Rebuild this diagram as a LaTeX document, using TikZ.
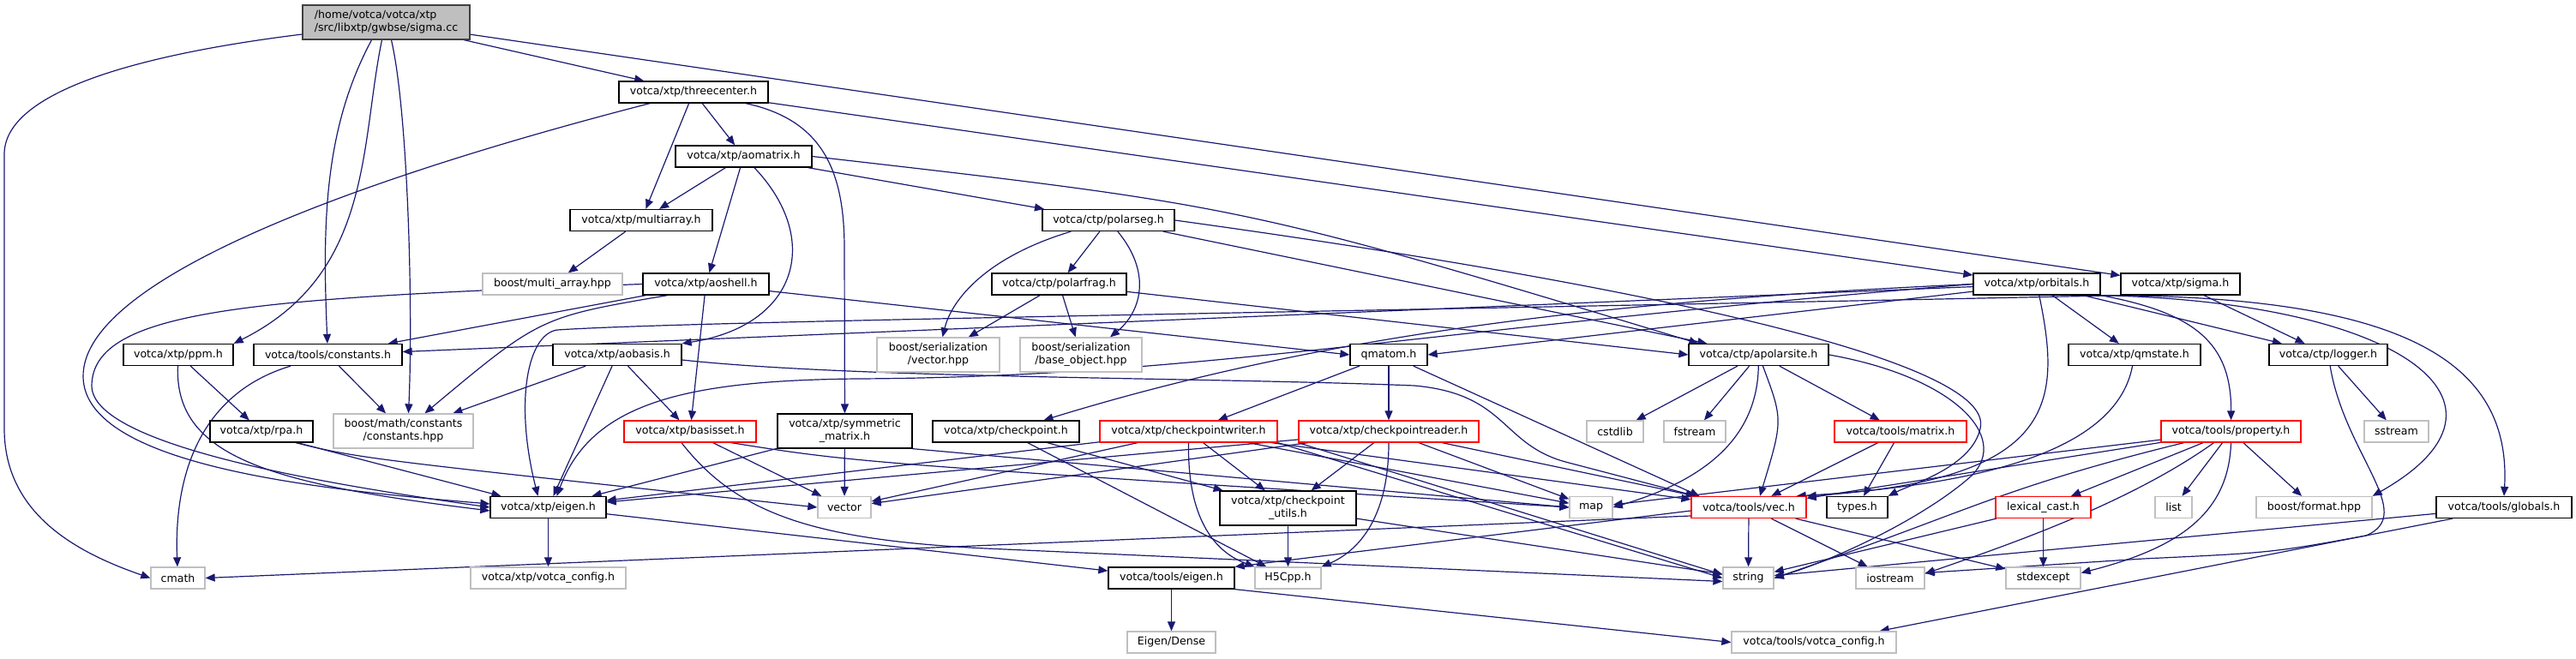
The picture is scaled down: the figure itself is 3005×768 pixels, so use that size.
\documentclass[tikz,border=0pt]{standalone}
\usepackage{fontspec}
\setmainfont{DejaVu Sans}
\usetikzlibrary{arrows.meta}
\definecolor{edgec}{RGB}{25,25,112}
\definecolor{grayb}{RGB}{191,191,191}
\definecolor{rootb}{RGB}{64,64,64}
\pgfdeclarelayer{bg}
\pgfsetlayers{bg,main}
\begin{document}
\begin{tikzpicture}[x=1pt,y=-1pt,
  nd/.style={draw=black, line width=1.3pt, fill=white, inner sep=0pt, minimum height=25pt,
    font=\fontsize{12.6}{15}\selectfont, align=center, text=black},
  rd/.style={nd, draw=red},
  gr/.style={nd, draw=grayb},
  rootn/.style={nd, fill=grayb, draw=rootb, align=left},
  tall/.style={minimum height=40pt},
  lnk/.style={draw=edgec, line width=1.2pt, -{Triangle[length=11pt,width=9pt]}}]
\useasboundingbox (0,0) rectangle (3005,768);

% nodes
\node[rootn,tall,minimum width=195pt] (root) at (450.5,26) {/home/votca/votca/xtp\\/src/libxtp/gwbse/sigma.cc};
\node[nd,minimum width=174pt] (threecenter) at (809,107.5) {votca/xtp/threecenter.h};
\node[nd,minimum width=159pt] (aomatrix) at (867.5,182.5) {votca/xtp/aomatrix.h};
\node[nd,minimum width=166pt] (multiarray) at (748,257) {votca/xtp/multiarray.h};
\node[nd,minimum width=154pt] (polarseg) at (1293,257) {votca/ctp/polarseg.h};
\node[gr,minimum width=163pt] (multiarrayhpp) at (644.5,331.5) {boost/multi\_array.hpp};
\node[nd,minimum width=147pt] (aoshell) at (823.5,331.5) {votca/xtp/aoshell.h};
\node[nd,minimum width=157pt] (polarfrag) at (1235.5,331.5) {votca/ctp/polarfrag.h};
\node[nd,minimum width=148pt] (orbitals) at (2376,331.5) {votca/xtp/orbitals.h};
\node[nd,minimum width=139pt] (sigmah) at (2543.5,331.5) {votca/xtp/sigma.h};
\node[nd,minimum width=128pt] (ppm) at (208,414) {votca/xtp/ppm.h};
\node[nd,minimum width=173pt] (constants) at (382.5,414) {votca/tools/constants.h};
\node[nd,minimum width=150pt] (aobasis) at (720,414) {votca/xtp/aobasis.h};
\node[gr,tall,minimum width=143pt] (serialvec) at (1094.5,414) {boost/serialization\\/vector.hpp};
\node[gr,tall,minimum width=142pt] (baseobj) at (1261,414) {boost/serialization\\/base\_object.hpp};
\node[nd,minimum width=90pt] (qmatom) at (1620,414) {qmatom.h};
\node[nd,minimum width=163pt] (apolarsite) at (2051.5,414) {votca/ctp/apolarsite.h};
\node[nd,minimum width=154pt] (qmstate) at (2490,414) {votca/xtp/qmstate.h};
\node[nd,minimum width=138pt] (logger) at (2716,414) {votca/ctp/logger.h};
\node[nd,minimum width=120pt] (rpa) at (305,503.5) {votca/xtp/rpa.h};
\node[gr,tall,minimum width=163pt] (boostmath) at (470.5,503) {boost/math/constants\\/constants.hpp};
\node[rd,minimum width=154pt] (basisset) at (805,503.5) {votca/xtp/basisset.h};
\node[nd,tall,minimum width=157pt] (symmat) at (985.5,503) {votca/xtp/symmetric\\\_matrix.h};
\node[nd,minimum width=171pt] (checkpoint) at (1173.5,503.5) {votca/xtp/checkpoint.h};
\node[rd,minimum width=207pt] (cpwriter) at (1386.5,503.5) {votca/xtp/checkpointwriter.h};
\node[rd,minimum width=210pt] (cpreader) at (1620,503.5) {votca/xtp/checkpointreader.h};
\node[gr,minimum width=66pt] (cstdlib) at (1884,503.5) {cstdlib};
\node[gr,minimum width=72pt] (fstream) at (1977,503.5) {fstream};
\node[rd,minimum width=154pt] (matrix) at (2217,503.5) {votca/tools/matrix.h};
\node[rd,minimum width=163pt] (property) at (2602.5,503.5) {votca/tools/property.h};
\node[gr,minimum width=75pt] (sstream) at (2795.5,503.5) {sstream};
\node[nd,minimum width=135pt] (eigen) at (639.5,592) {votca/xtp/eigen.h};
\node[gr,minimum width=62pt] (nvector) at (985,592) {vector};
\node[nd,tall,minimum width=159pt] (cputils) at (1502.5,593) {votca/xtp/checkpoint\\\_utils.h};
\node[gr,minimum width=50pt] (nmap) at (1856,592) {map};
\node[rd,minimum width=134pt] (vec) at (2040,592) {votca/tools/vec.h};
\node[nd,minimum width=71pt] (types) at (2166.5,592) {types.h};
\node[rd,minimum width=111pt] (lexical) at (2383.5,592) {lexical\_cast.h};
\node[gr,minimum width=43pt] (nlist) at (2535.5,592) {list};
\node[gr,minimum width=135pt] (format) at (2699.5,592) {boost/format.hpp};
\node[nd,minimum width=158pt] (globals) at (2921,592) {votca/tools/globals.h};
\node[gr,minimum width=63pt] (cmath) at (207.5,674.5) {cmath};
\node[gr,minimum width=181pt] (xtpconfig) at (639.5,674.5) {votca/xtp/votca\_config.h};
\node[nd,minimum width=147pt] (tooleigen) at (1366.5,674.5) {votca/tools/eigen.h};
\node[gr,minimum width=77pt] (h5) at (1502.5,674.5) {H5Cpp.h};
\node[gr,minimum width=59pt] (nstring) at (2039.5,674.5) {string};
\node[gr,minimum width=80pt] (iostream) at (2205,674.5) {iostream};
\node[gr,minimum width=87pt] (stdexcept) at (2383.5,674.5) {stdexcept};
\node[gr,minimum width=103pt] (eigendense) at (1366.5,749.5) {Eigen/Dense};
\node[gr,minimum width=192pt] (toolsconfig) at (2116,749.5) {votca/tools/votca\_config.h};

\begin{pgfonlayer}{bg}
% root
\draw[lnk] ([yshift=-14pt]root.west) .. controls (150,65) and (5,110) .. (5,180) -- (5,500) .. controls (5,600) and (90,645) .. (cmath.west);
\draw[lnk] (root) -- (threecenter);
\draw[lnk] ([xshift=-17pt]root.south) .. controls (378,150) and (376,260) .. (constants);
\draw[lnk] ([xshift=-5pt]root.south) .. controls (420,170) and (435,320) .. (ppm.north east);
\draw[lnk] ([xshift=6pt]root.south) .. controls (476,130) and (482,360) .. ([xshift=6pt]boostmath.north);
\draw[lnk] (root) -- (sigmah);
% threecenter
\draw[lnk] (threecenter) .. controls (450,200) and (95,320) .. (97,440) .. controls (99,545) and (380,572) .. ([yshift=4pt]eigen.west);
\draw[lnk] (threecenter) -- (multiarray);
\draw[lnk] (threecenter) -- (aomatrix);
\draw[lnk] (threecenter) .. controls (960,140) and (985,200) .. (985,290) -- (symmat);
\draw[lnk] (threecenter) -- (orbitals);
% aomatrix
\draw[lnk] (aomatrix) -- (multiarray);
\draw[lnk] (aomatrix) -- (aoshell);
\draw[lnk] (aomatrix) .. controls (960,280) and (930,380) .. (aobasis.north east);
\draw[lnk] (aomatrix) -- (polarseg);
\draw[lnk] (aomatrix.east) .. controls (1450,240) .. ([xshift=12pt]apolarsite.north west);
% multiarray
\draw[lnk] (multiarray) -- (multiarrayhpp);
% polarseg
\draw[lnk] (polarseg) .. controls (1150,300) and (1110,350) .. (serialvec);
\draw[lnk] (polarseg) -- (polarfrag);
\draw[lnk] (polarseg) .. controls (1345,320) and (1330,365) .. ([xshift=34pt]baseobj.north);
\draw[lnk] (polarseg) -- ([xshift=22pt]apolarsite.north west);
\draw[lnk] (polarseg.east) .. controls (1900,330) and (2330,420) .. (2310,500) .. controls (2300,545) and (2230,565) .. (types.north east);
% polarfrag
\draw[lnk] (polarfrag) -- (serialvec);
\draw[lnk] (polarfrag) -- (baseobj);
\draw[lnk] (polarfrag) -- (apolarsite.west);
% aoshell
\draw[lnk] (aoshell) -- (constants);
\draw[lnk] ([xshift=-45pt]aoshell.south) .. controls (630,370) .. ([xshift=25pt]boostmath.north);
\draw[lnk] (aoshell.west) .. controls (300,348) and (108,360) .. (107,450) .. controls (107,520) and (380,565) .. (eigen.west);
\draw[lnk] (aoshell) -- (basisset);
\draw[lnk] (aoshell) -- (qmatom.west);
% orbitals
\draw[lnk] (orbitals) -- (constants);
\draw[lnk] (orbitals.west) .. controls (1650,385) and (1400,440) .. (1000,442) .. controls (800,444) and (690,470) .. ([xshift=10pt]eigen.north);
\draw[lnk] (orbitals) -- (qmatom.east);
\draw[lnk] (orbitals.west) .. controls (1900,350) and (1560,385) .. ([xshift=44pt]checkpoint.north);
\draw[lnk] (orbitals) -- (qmstate);
\draw[lnk] (orbitals) .. controls (2405,470) and (2400,560) .. (vec.north east);
\draw[lnk] (orbitals.south east) .. controls (2560,365) and (2603,400) .. (property);
\draw[lnk] (orbitals) -- (logger);
\draw[lnk] (orbitals.south east) .. controls (2800,352) and (2960,470) .. (format.north east);
\draw[lnk] (orbitals.south east) .. controls (2800,345) and (2930,420) .. (globals.north);
% sigma.h
\draw[lnk] (sigmah) -- (logger);
\draw[lnk] (sigmah.south west) .. controls (1500,365) and (800,375) .. (650,385) .. controls (615,390) and (600,470) .. ([xshift=-12pt]eigen.north);
% ppm
\draw[lnk] (ppm) -- (rpa);
\draw[lnk] (ppm) .. controls (203,535) and (320,565) .. ([yshift=-4pt]eigen.west);
% constants
\draw[lnk] (constants) -- (boostmath);
\draw[lnk] (constants) .. controls (230,460) and (203,560) .. (cmath);
% aobasis
\draw[lnk] (aobasis) -- (boostmath);
\draw[lnk] (aobasis) -- (eigen);
\draw[lnk] (aobasis) -- (basisset);
\draw[lnk] ([yshift=-6pt]aobasis.east) .. controls (1000,442) and (1400,440) .. (1650,450) .. controls (1760,460) and (1750,520) .. (1830,540) -- ([xshift=6pt]vec.north west);
% qmatom
\draw[lnk] (qmatom) -- (cpwriter);
\draw[lnk] (qmatom) -- (cpreader);
\draw[lnk] (qmatom) -- ([xshift=10pt]vec.north west);
% apolarsite
\draw[lnk] (apolarsite) -- (cstdlib);
\draw[lnk] (apolarsite) -- (fstream);
\draw[lnk] (apolarsite) .. controls (2050,510) and (1990,560) .. (nmap.east);
\draw[lnk] (apolarsite) .. controls (2080,490) .. ([xshift=13pt]vec.north);
\draw[lnk] (apolarsite) -- (matrix);
\draw[lnk] (apolarsite.east) .. controls (2280,440) and (2345,510) .. (2300,555) .. controls (2250,600) and (2150,650) .. (nstring.east);
% qmstate
\draw[lnk] (qmstate) .. controls (2470,520) and (2330,565) .. ([xshift=-12pt]vec.north east);
% logger
\draw[lnk] (logger) -- (sstream);
\draw[lnk] (logger) .. controls (2735,530) and (2820,600) .. (2760,625) .. controls (2650,645) .. (2500,652) -- ([yshift=6pt]iostream.east);
% rpa
\draw[lnk] ([xshift=42pt]rpa.south) -- ([xshift=-55pt]eigen.north);
\draw[lnk] ([xshift=40pt]rpa.south) .. controls (420,535) .. (nvector.west);
% basisset
\draw[lnk] (basisset) -- (nvector);
\draw[lnk] ([xshift=48pt]basisset.south) .. controls (1000,540) .. (nmap.west);
\draw[lnk] ([xshift=-10pt]basisset.south) .. controls (860,600) and (950,630) .. (1150,640) -- ([yshift=-4pt]nstring.west);
% symmetric matrix
\draw[lnk] (symmat) -- (eigen);
\draw[lnk] (symmat) -- (nvector);
\draw[lnk] (symmat.south east) -- (nmap.west);
% checkpoint
\draw[lnk] (checkpoint) -- (cputils);
\draw[lnk] (checkpoint) -- (h5);
% checkpointwriter
\draw[lnk] (cpwriter) -- (eigen);
\draw[lnk] (cpwriter) -- (nvector);
\draw[lnk] (cpwriter) -- (cputils);
\draw[lnk] (cpwriter.south) .. controls (1385,610) and (1420,645) .. (h5.north west);
\draw[lnk] (cpwriter) -- (nmap);
\draw[lnk] (cpwriter) -- (vec);
\draw[lnk] (cpwriter.south east) -- (nstring.west);
% checkpointreader
\draw[lnk] (cpreader) -- (eigen);
\draw[lnk] (cpreader) -- (nvector);
\draw[lnk] (cpreader) -- (cputils);
\draw[lnk] (cpreader.south) .. controls (1620,610) and (1580,645) .. (h5.north east);
\draw[lnk] (cpreader) -- (nmap);
\draw[lnk] (cpreader) -- (vec);
\draw[lnk] (cpreader.south west) -- ([yshift=4pt]nstring.west);
% checkpoint utils
\draw[lnk] (cputils) -- (h5);
\draw[lnk] (cputils) -- (nstring);
% matrix
\draw[lnk] (matrix) -- (vec);
\draw[lnk] (matrix) -- (types);
% property
\draw[lnk] (property) -- (nmap);
\draw[lnk] (property) -- (vec);
\draw[lnk] ([xshift=-55pt]property.south) .. controls (2330,570) and (2290,600) .. (nstring.east);
\draw[lnk] (property) -- (lexical);
\draw[lnk] (property) -- (nlist);
\draw[lnk] (property) -- (format);
\draw[lnk] (property.south) .. controls (2600,600) and (2540,640) .. ([yshift=6pt]stdexcept.east);
\draw[lnk] ([xshift=-20pt]property.south) .. controls (2480,590) and (2330,640) .. ([yshift=5pt]iostream.east);
% vec
\draw[lnk] (vec) -- (nstring);
\draw[lnk] (vec) -- (iostream);
\draw[lnk] (vec) -- (stdexcept);
\draw[lnk] ([yshift=-10pt]vec.west) -- (cmath.east);
\draw[lnk] ([yshift=-4pt]vec.west) -- (tooleigen.north east);
% lexical cast
\draw[lnk] (lexical) -- (nstring);
\draw[lnk] (lexical) -- (stdexcept);
% globals
\draw[lnk] (globals) -- (nstring);
\draw[lnk] ([xshift=-60pt]globals.south) -- ([xshift=-20pt]toolsconfig.north east);
% eigen
\draw[lnk] (eigen) -- (xtpconfig);
\draw[lnk] (eigen) -- (tooleigen);
% tools eigen
\draw[lnk] (tooleigen) -- (eigendense);
\draw[lnk] (tooleigen.south east) -- (toolsconfig.west);
\end{pgfonlayer}
\end{tikzpicture}
\end{document}
